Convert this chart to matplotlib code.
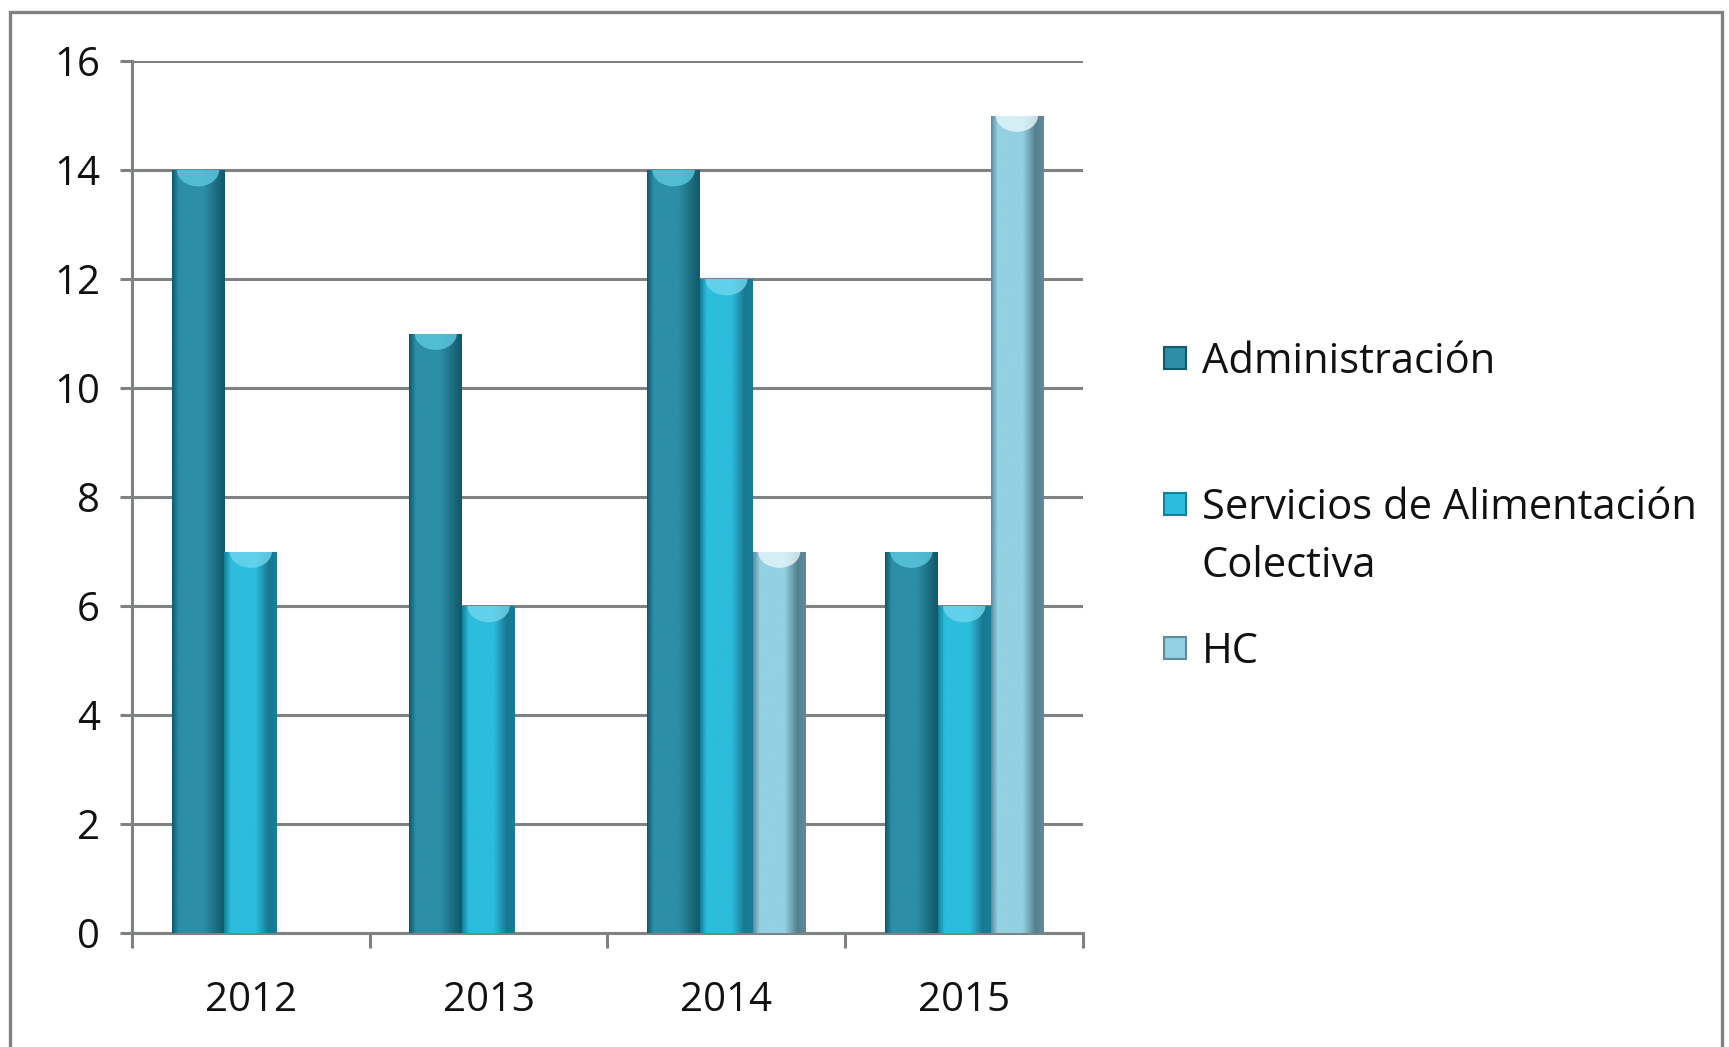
import numpy as np
import matplotlib.pyplot as plt
from matplotlib.colors import LinearSegmentedColormap
from matplotlib.patches import Rectangle, Ellipse

years = ["2012", "2013", "2014", "2015"]
series_names = ["Administración", "Servicios de Alimentación\nColectiva", "HC"]
admin = [14, 11, 14, 7]
servicios = [7, 6, 12, 6]
hc = [0, 0, 7, 15]
y_ticks = [0, 2, 4, 6, 8, 10, 12, 14, 16]

# edge / body / right-edge tones for the cylinder-like shading
shades = [
    ["#0f5a6c", "#2c8ea7", "#1d6b7e"],
    ["#15809a", "#2cbcdc", "#1a7890"],
    ["#5e8c9c", "#93d0e2", "#557f8e"],
]
tops = ["#5cc8e0", "#6fd6ee", "#e6f6fa"]

GRID = "#7f8283"
TEXT = "#111111"

plt.rcParams["font.family"] = ["Open Sans", "DejaVu Sans"]

fig = plt.figure(figsize=(17.29, 10.47), dpi=100)
ax = fig.add_axes([0.0763, 0.1089, 0.5501, 0.8328])

x = np.arange(len(years))
width = 0.222
offsets = [-width, 0, width]
all_values = [admin, servicios, hc]

for values, off, shade, top in zip(all_values, offsets, shades, tops):
    cmap = LinearSegmentedColormap.from_list(
        "s",
        [(0.0, shade[0]), (0.12, shade[1]), (0.6, shade[1]),
         (0.85, shade[2]), (1.0, shade[0])],
    )
    bars = ax.bar(x + off, values, width, color=shade[1], zorder=3)
    grad = np.linspace(0, 1, 64).reshape(1, -1)
    for bar in bars:
        h = bar.get_height()
        if h <= 0:
            continue
        x0 = bar.get_x()
        img = ax.imshow(
            grad,
            cmap=cmap,
            aspect="auto",
            extent=(x0, x0 + width, 0, h),
            zorder=4,
        )
        img.set_clip_path(bar)
        cap = Ellipse(
            (x0 + width / 2, h),
            width * 0.8,
            0.6,
            facecolor=top,
            edgecolor="none",
            alpha=0.8,
            zorder=5,
        )
        ax.add_patch(cap)
        cap.set_clip_path(bar)

ax.set_xlim(-0.5, len(years) - 0.5)
ax.set_ylim(0, 16)
ax.set_yticks(y_ticks)
ax.set_yticklabels([str(v) for v in y_ticks])
ax.yaxis.grid(True, color=GRID, linewidth=2.2, zorder=0)
ax.set_axisbelow(True)

ax.set_xticks(np.arange(len(years) + 1) - 0.5)
ax.set_xticklabels([])
ax.set_xticks(x, minor=True)
ax.set_xticklabels(years, minor=True)
ax.tick_params(axis="x", which="minor", length=0, pad=34, labelsize=29,
               labelcolor=TEXT)
ax.tick_params(axis="x", which="major", length=11, width=2.2, color=GRID)
ax.tick_params(axis="y", length=9, width=2.2, color=GRID, pad=14,
               labelsize=29, labelcolor=TEXT)

for side in ["top", "right"]:
    ax.spines[side].set_visible(False)
for side in ["left", "bottom"]:
    ax.spines[side].set_color(GRID)
    ax.spines[side].set_linewidth(2.2)

# outer frame
fig.patches.append(
    Rectangle(
        (0.0058, -0.05), 0.99, 1.0385,
        transform=fig.transFigure, fill=False,
        edgecolor=GRID, linewidth=2.4,
    )
)

# legend drawn by hand, one text per line so the marker sits on line one
legend_y = [0.658, 0.519, 0.381]
line_step = 0.056
for name, y, shade in zip(series_names, legend_y, shades):
    fig.patches.append(
        Rectangle(
            (0.6735, y - 0.0105), 0.0125, 0.021,
            transform=fig.transFigure,
            facecolor=shade[1], edgecolor=shade[0], linewidth=1.5,
        )
    )
    for i, line in enumerate(name.split("\n")):
        fig.text(
            0.695, y - 0.004 - i * line_step, line, fontsize=30,
            va="center", ha="left", color=TEXT,
        )

fig.savefig("out.png", dpi=100)
